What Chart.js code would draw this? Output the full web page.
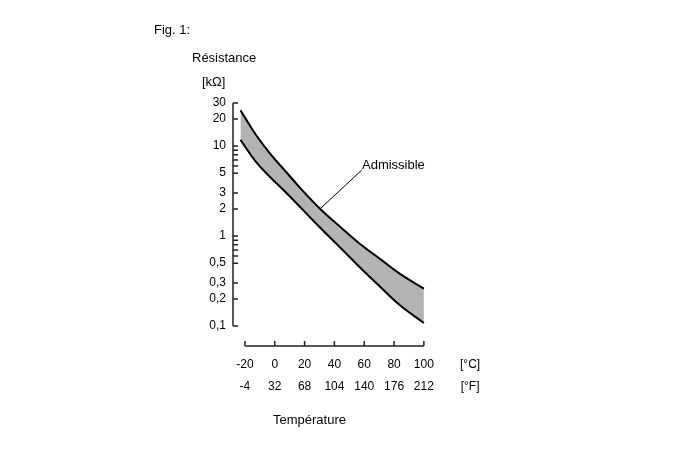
<!DOCTYPE html>
<html>
<head>
<meta charset="utf-8">
<title>Fig. 1 – Résistance / Température</title>
<script src="https://cdn.jsdelivr.net/npm/chart.js@4.4.1/dist/chart.umd.min.js"></script>
<style>
    html, body { margin: 0; padding: 0; background: #fff; }
    #wrap { position: relative; width: 688px; height: 463px; }
    #wrap canvas { position: absolute; left: 0; top: 0; }
    .lbl { position: absolute; font: 13px "Liberation Sans", Arial, sans-serif; line-height: 15px; color: #000; white-space: nowrap; }
</style>
</head>
<body>
<div id="wrap">
    <canvas id="fig-chart" width="688" height="463"></canvas>
    <div class="lbl" style="left:154px;top:22px;">Fig. 1:</div>
    <div class="lbl" style="left:192px;top:50px;">Résistance</div>
    <div class="lbl" style="left:202px;top:74px;">[kΩ]</div>
    <div class="lbl" style="left:362px;top:157px;">Admissible</div>
    <div class="lbl" style="left:273px;top:412px;">Température</div>
</div>
<script>
// (°C / kΩ)
const temps = [-23, -13, -3, 7, 17, 30, 44, 57, 71, 84, 100];
const upperKOhm = [25, 13.6, 8.2, 5.3, 3.43, 2.04, 1.26, 0.82, 0.55, 0.38, 0.26];
const lowerKOhm = [11.7, 6.8, 4.5, 3.1, 2.1, 1.26, 0.74, 0.45, 0.27, 0.17, 0.108];

// pointer line to the "Admissible" label
const leaderTemps = [30.3, 58.3];
const leaderKOhm = [2.0, 5.4];

const yTicks = [0.1, 0.2, 0.3, 0.5, 0.6, 0.7, 0.8, 0.9, 1, 2, 3, 5, 6, 7, 8, 9, 10, 20, 30];
const yLabelled = [0.1, 0.2, 0.3, 0.5, 1, 2, 3, 5, 10, 20, 30];
const celsiusTicks = [-20, 0, 20, 40, 60, 80, 100];
const fahrenheitTicks = [-4, 32, 68, 104, 140, 176, 212];

const UNIT_TICK = 131; // where the [°C] / [°F] column sits on the x scale

function toPoints(xs, ys) {
    return xs.map((x, i) => ({ x, y: ys[i] }));
}

// axis lines with inward ticks, drawn from the scales
const axisLines = {
    id: 'axisLines',
    afterDatasetsDraw(chart) {
        const { ctx, chartArea, scales: { x, y } } = chart;
        const ax = chartArea.left;
        const ay = chartArea.bottom;
        ctx.save();
        ctx.strokeStyle = '#222';
        ctx.lineWidth = 1.5;
        ctx.beginPath();
        ctx.moveTo(ax, y.getPixelForValue(yTicks[yTicks.length - 1]));
        ctx.lineTo(ax, y.getPixelForValue(yTicks[0]));
        yTicks.forEach(v => {
            const p = y.getPixelForValue(v);
            ctx.moveTo(ax, p);
            ctx.lineTo(ax + 5, p);
        });
        ctx.moveTo(x.getPixelForValue(celsiusTicks[0]), ay);
        ctx.lineTo(x.getPixelForValue(celsiusTicks[celsiusTicks.length - 1]), ay);
        celsiusTicks.forEach(v => {
            const p = x.getPixelForValue(v);
            ctx.moveTo(p, ay);
            ctx.lineTo(p, ay - 5);
        });
        ctx.stroke();
        ctx.restore();
    }
};

Chart.defaults.font.family = '"Liberation Sans", Arial, sans-serif';
Chart.defaults.font.size = 12;
Chart.defaults.color = '#000';

new Chart(document.getElementById('fig-chart'), {
    type: 'line',
    data: {
        datasets: [
            {
                label: 'max',
                data: toPoints(temps, upperKOhm),
                borderColor: '#000',
                borderWidth: 2,
                pointRadius: 0,
                fill: false,
                tension: 0.4
            },
            {
                label: 'min',
                data: toPoints(temps, lowerKOhm),
                borderColor: '#000',
                borderWidth: 2,
                pointRadius: 0,
                fill: '-1',
                backgroundColor: '#b3b3b3',
                tension: 0.4
            },
            {
                label: 'leader',
                data: toPoints(leaderTemps, leaderKOhm),
                borderColor: '#000',
                borderWidth: 1,
                pointRadius: 0,
                fill: false
            }
        ]
    },
    options: {
        responsive: false,
        animation: false,
        layout: { padding: { top: 95, right: 200, left: 0, bottom: 0 } },
        plugins: { legend: { display: false }, tooltip: { enabled: false } },
        scales: {
            x: {
                type: 'linear',
                min: -28,
                max: 143,
                grid: { display: false, drawTicks: false },
                border: { display: false },
                afterBuildTicks: s => { s.ticks = [...celsiusTicks, UNIT_TICK].map(v => ({ value: v })); },
                afterFit: s => { s.height = 117; },
                ticks: {
                    autoSkip: false,
                    maxRotation: 0,
                    padding: 8,
                    font: { size: 12, lineHeight: 22 / 12 },
                    callback: v => {
                        const i = celsiusTicks.indexOf(v);
                        return i < 0 ? ['[°C]', '[°F]'] : [String(v), String(fahrenheitTicks[i])];
                    }
                }
            },
            y: {
                type: 'logarithmic',
                min: 0.06,
                max: 36.9,
                grid: { display: false, drawTicks: false },
                border: { display: false },
                afterBuildTicks: s => { s.ticks = yTicks.map(v => ({ value: v })); },
                afterFit: s => { s.width = 233; },
                ticks: {
                    autoSkip: false,
                    padding: 7,
                    callback: v => yLabelled.includes(v) ? String(v).replace('.', ',') : ''
                }
            }
        }
    },
    plugins: [axisLines]
});
</script>
</body>
</html>
